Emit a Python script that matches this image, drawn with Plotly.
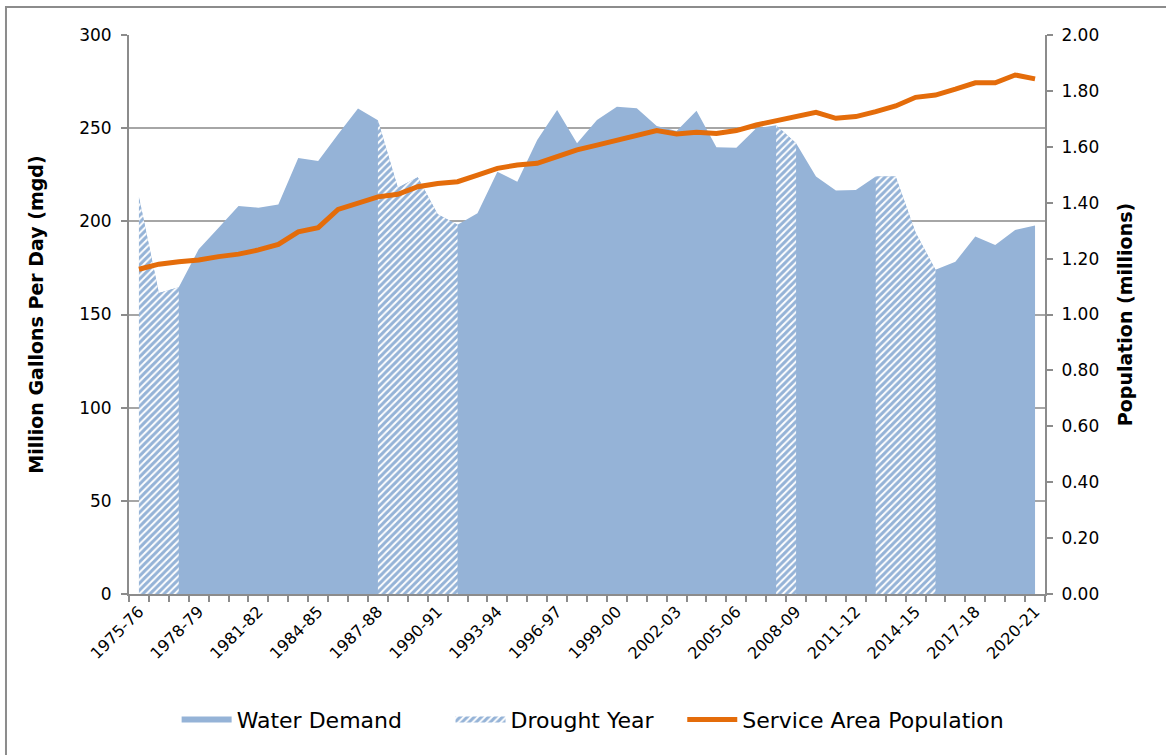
import plotly.graph_objects as go

# === data ===
years = [
    "1975-76", "1976-77", "1977-78", "1978-79", "1979-80", "1980-81", "1981-82",
    "1982-83", "1983-84", "1984-85", "1985-86", "1986-87", "1987-88", "1988-89",
    "1989-90", "1990-91", "1991-92", "1992-93", "1993-94", "1994-95", "1995-96",
    "1996-97", "1997-98", "1998-99", "1999-00", "2000-01", "2001-02", "2002-03",
    "2003-04", "2004-05", "2005-06", "2006-07", "2007-08", "2008-09", "2009-10",
    "2010-11", "2011-12", "2012-13", "2013-14", "2014-15", "2015-16", "2016-17",
    "2017-18", "2018-19", "2019-20", "2020-21",
]

demand_mgd = [
    213, 161.5, 164.6, 185, 196.6, 208.2, 207.3, 209.1, 234, 232.4,
    246.8, 260.5, 254.2, 218, 223.7, 203.8, 198.2, 204.3, 226.6, 221.3,
    243.6, 259.8, 241.9, 254.4, 261.5, 260.7, 251.2, 248.5, 259.4, 239.7,
    239.5, 249.9, 251.5, 241.9, 224, 216.5, 216.8, 224, 224, 194,
    174, 178.3, 191.8, 187.3, 195.4, 197.7,
]

population_m = [
    1.162, 1.180, 1.189, 1.195, 1.207, 1.216, 1.231, 1.251, 1.296, 1.311,
    1.376, 1.400, 1.421, 1.430, 1.457, 1.469, 1.475, 1.499, 1.523, 1.535,
    1.541, 1.565, 1.589, 1.606, 1.624, 1.639, 1.658, 1.646, 1.652, 1.648,
    1.658, 1.678, 1.693, 1.709, 1.723, 1.702, 1.708, 1.726, 1.746, 1.777,
    1.785, 1.806, 1.829, 1.829, 1.857, 1.843,
]

drought_years = [
    "1975-76", "1976-77", "1977-78",
    "1987-88", "1988-89", "1989-90", "1990-91", "1991-92",
    "2007-08", "2008-09",
    "2012-13", "2013-14", "2014-15", "2015-16",
]

label_years = years[::3]

# === colours / fonts ===
BLUE = "#95B3D7"
ORANGE = "#E46C0A"
GRAY = "#8C8C8C"
FONT = "DejaVu Sans"

idx = list(range(len(years)))

fig = go.Figure()

# water demand (solid area)
fig.add_trace(go.Scatter(
    x=idx, y=demand_mgd, name="Water Demand", mode="none",
    fill="tozeroy", fillcolor=BLUE, customdata=years, legend="legend",
    hovertemplate="%{customdata}: %{y} mgd<extra></extra>",
))

# drought years -> hatched segments drawn over the demand area
runs = []
cur = []
for i, yr in enumerate(years):
    if yr in drought_years:
        cur.append(i)
    elif cur:
        runs.append(cur)
        cur = []
if cur:
    runs.append(cur)

for k, run in enumerate(runs):
    fig.add_trace(go.Scatter(
        x=run, y=[demand_mgd[i] for i in run], name="Drought Year",
        mode="none", fill="tozeroy",
        fillpattern=dict(shape="/", fgcolor=BLUE, bgcolor="white",
                         fgopacity=1, size=5, solidity=0.6),
        legend="legend2", legendgroup="drought", showlegend=(k == 0),
        customdata=[years[i] for i in run],
        hovertemplate="%{customdata}: %{y} mgd<extra></extra>",
    ))

# population line
fig.add_trace(go.Scatter(
    x=idx, y=population_m, name="Service Area Population", yaxis="y2",
    mode="lines", line=dict(color=ORANGE, width=5),
    customdata=years, legend="legend3",
    hovertemplate="%{customdata}: %{y:.2f} M<extra></extra>",
))

leg = dict(orientation="h", xanchor="left", y=-0.225, yanchor="middle",
           font=dict(size=22), itemwidth=50, bgcolor="rgba(0,0,0,0)")

fig.update_layout(
    width=1166, height=755,
    margin=dict(l=129, r=121, t=35, b=161, autoexpand=False),
    paper_bgcolor="white", plot_bgcolor="white",
    font=dict(family=FONT, size=17, color="black"),
    showlegend=True,
    legend=dict(leg, x=0.052),
    legend2=dict(leg, x=0.351),
    legend3=dict(leg, x=0.604),
    xaxis=dict(
        range=[-0.5, len(years) - 0.5],
        tickmode="array", tickvals=idx[::3], ticktext=label_years,
        tickangle=-45, ticks="", showgrid=False, zeroline=False,
        showline=True, linecolor=GRAY, linewidth=2,
        minor=dict(ticks="outside", tick0=-0.5, dtick=1, ticklen=6,
                   tickcolor=GRAY, tickwidth=1.5, showgrid=False),
        tickfont=dict(size=16),
    ),
    yaxis=dict(
        range=[0, 300], dtick=50, ticks="outside", ticklen=6,
        tickcolor=GRAY, tickwidth=1.5, ticklabelstandoff=6,
        showgrid=True, gridcolor="#A6A6A6", gridwidth=1.5, zeroline=False,
        showline=True, linecolor=GRAY, linewidth=2,
        title=dict(text="<b>Million Gallons Per Day (mgd)</b>",
                   font=dict(size=19), standoff=30),
    ),
    yaxis2=dict(
        range=[0, 2], dtick=0.2, tickformat=".2f", overlaying="y",
        side="right", ticks="outside", ticklen=6, tickcolor=GRAY,
        tickwidth=1.5, ticklabelstandoff=5, showgrid=False, zeroline=False,
        showline=True, linecolor=GRAY, linewidth=2,
        title=dict(text="<b>Population (millions)</b>",
                   font=dict(size=19), standoff=20),
    ),
    shapes=[dict(type="rect", xref="paper", yref="paper",
                 x0=-0.1343, x1=1.14, y0=-0.3, y1=1.0501,
                 line=dict(color=GRAY, width=2), layer="below")],
)

# page has default body margin; remove it so the figure sits at 0,0
fig.write_html("out.html", config={"displayModeBar": False},
               post_script="document.body.style.margin='0';")
